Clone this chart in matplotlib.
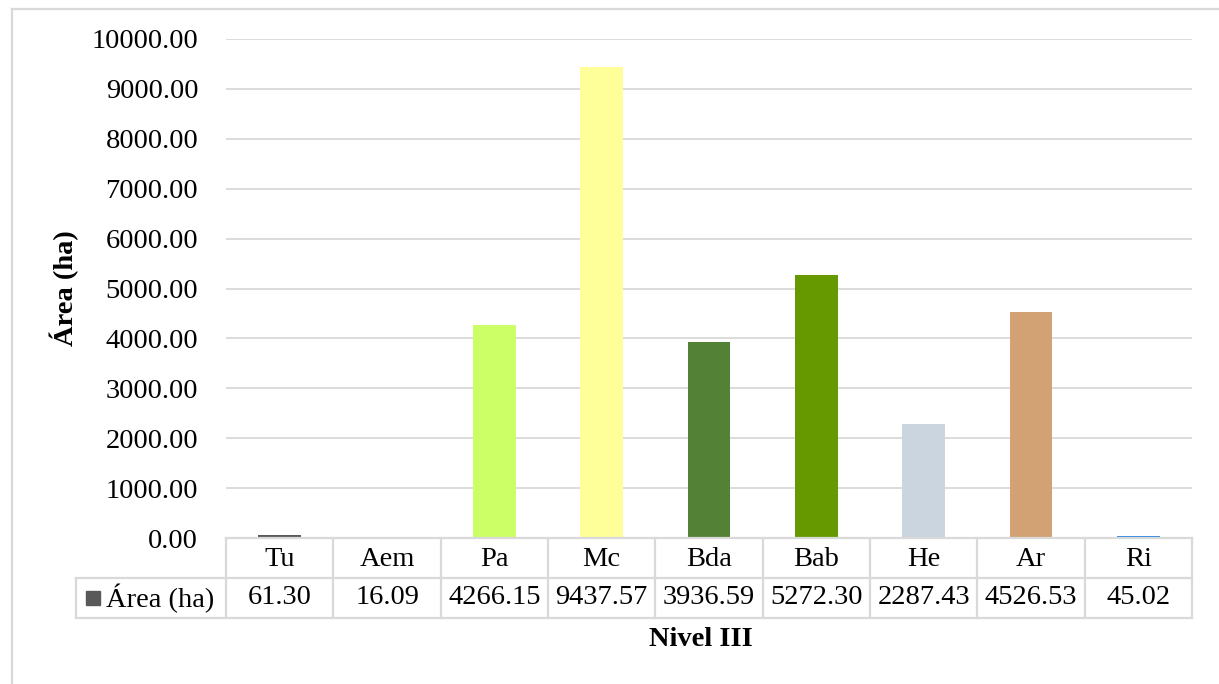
import matplotlib.pyplot as plt
from matplotlib.lines import Line2D
from matplotlib.patches import Rectangle

plt.rcParams['font.family'] = ['Liberation Serif', 'DejaVu Serif']

categorias = ['Tu', 'Aem', 'Pa', 'Mc', 'Bda', 'Bab', 'He', 'Ar', 'Ri']
area = [61.30, 16.09, 4266.15, 9437.57, 3936.59, 5272.30, 2287.43, 4526.53, 45.02]
colores = ['#595959', '#8EB4E3', '#CCFF66', '#FFFF99', '#538135',
           '#669900', '#CBD5DF', '#D2A274', '#2E8BE0']
serie = 'Área (ha)'

W, H = 1219, 684
fs = 20.5
fig = plt.figure(figsize=(W / 100, H / 100), dpi=100)

# pixel helpers (top-left origin)
def fx(x):
    return x / W

def fy(y):
    return 1 - y / H

x0, x1 = 226, 1192
y_top, y_base = 39, 538
ax = fig.add_axes([fx(x0), fy(y_base), (x1 - x0) / W, (y_base - y_top) / H])

n = len(categorias)
pos = list(range(n))
ax.bar(pos, area, width=0.4, color=colores, zorder=3)
ax.set_xlim(-0.5, n - 0.5)
ax.set_ylim(0, 10000)
ax.set_yticks(range(0, 10001, 1000))
ax.set_yticklabels([f'{v:.2f}' for v in range(0, 10001, 1000)], fontsize=fs)
ax.set_xticks([])
ax.grid(axis='y', color='#D9D9D9', linewidth=1.3, zorder=0)
ax.tick_params(axis='y', length=0, pad=20)
for s in ax.spines.values():
    s.set_visible(False)

# data table below the plot
gris = '#D9D9D9'
lw = 1.6
r0, r1, r2 = 538, 578, 618
ancho = (x1 - x0) / n

def linea(xa, ya, xb, yb):
    fig.add_artist(Line2D([fx(xa), fx(xb)], [fy(ya), fy(yb)],
                          color=gris, linewidth=lw, transform=fig.transFigure))

linea(x0, r0, x1, r0)
linea(76, r1, x1, r1)
linea(76, r2, x1, r2)
linea(76, r1, 76, r2)
for i in range(n + 1):
    xv = x0 + i * ancho
    linea(xv, r0, xv, r2)

for i, (c, v) in enumerate(zip(categorias, area)):
    xc = x0 + (i + 0.5) * ancho
    fig.text(fx(xc), fy((r0 + r1) / 2 + 1), c, ha='center', va='center', fontsize=fs)
    fig.text(fx(xc), fy((r1 + r2) / 2), f'{v:.2f}', ha='center', va='center', fontsize=fs)

fig.add_artist(Rectangle((fx(86), fy(605)), 14 / W, 14 / H, color='#595959',
                         transform=fig.transFigure))
fig.text(fx(106), fy((r1 + r2) / 2), serie, ha='left', va='center', fontsize=fs)

# axis titles
fig.text(fx(701), fy(640), 'Nivel III', ha='center', va='center',
         fontsize=fs, fontweight='bold')
fig.text(fx(64), fy(288), serie, ha='center', va='center', rotation=90,
         fontsize=fs, fontweight='bold')

# outer chart frame
linea(12, 9, W, 9)
linea(12, 9, 12, H)

fig.savefig('out.png', dpi=100)
